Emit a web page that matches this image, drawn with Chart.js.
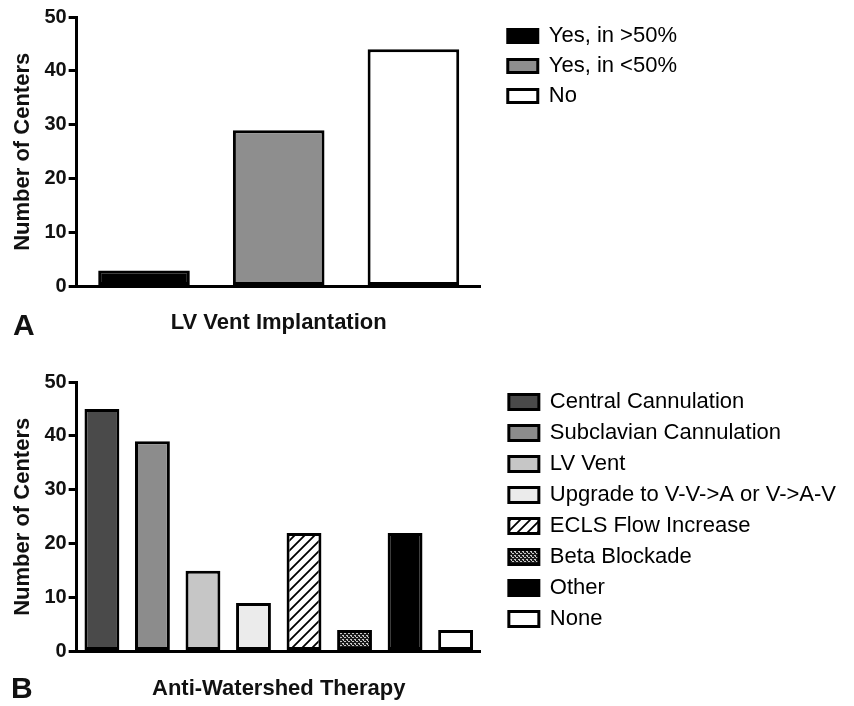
<!DOCTYPE html>
<html lang="en">
  <head>
    <meta charset="UTF-8" />
    <title>LV Vent / Anti-Watershed Therapy</title>
    <style type="text/css">
      body {
        margin: 0;
        background-color: #ffffff;
        font-family: "Liberation Sans", Arial, sans-serif;
      }
      .page {
        position: relative;
        width: 854px;
        height: 706px;
      }
      .panel {
        position: absolute;
        left: 0;
        width: 854px;
      }
      .tag {
        position: absolute;
        font-size: 30px;
        line-height: 30px;
        font-weight: bold;
        color: #111;
      }
    </style>
  </head>
  <body>
    <div class="page">
      <div class="panel" style="top: 0; height: 350px"><canvas id="chart-a"></canvas></div>
      <div class="panel" style="top: 360px; height: 346px"><canvas id="chart-b"></canvas></div>
      <div class="tag" style="left: 13px; top: 310px">A</div>
      <div class="tag" style="left: 11px; top: 673px">B</div>
    </div>

    <script src="https://cdn.jsdelivr.net/npm/chart.js@4.4.1/dist/chart.umd.min.js"></script>

    <script type="text/javascript">
      // panel A
      const ventLabels = ["Yes, in >50%", "Yes, in <50%", "No"];
      const ventCounts = [3, 29, 44];

      // panel B
      const therapyLabels = [
        "Central Cannulation",
        "Subclavian Cannulation",
        "LV Vent",
        "Upgrade to V-V->A or V->A-V",
        "ECLS Flow Increase",
        "Beta Blockade",
        "Other",
        "None",
      ];
      const therapyCounts = [45, 39, 15, 9, 22, 4, 22, 4];

      const yTicks = [0, 10, 20, 30, 40, 50];

      Chart.defaults.font.family = "'Liberation Sans', Arial, sans-serif";
      Chart.defaults.color = "#111";

      const makePattern = (size, paint) => {
        const c = document.createElement("canvas");
        c.width = size;
        c.height = size;
        const g = c.getContext("2d");
        paint(g, size);
        return g.createPattern(c, "repeat");
      };

      const hatch = makePattern(10, (g, s) => {
        g.fillStyle = "#fff";
        g.fillRect(0, 0, s, s);
        g.strokeStyle = "#000";
        g.lineWidth = 1.8;
        g.beginPath();
        g.moveTo(-2, s + 2);
        g.lineTo(s + 2, -2);
        g.moveTo(-2, 2);
        g.lineTo(2, -2);
        g.moveTo(s - 2, s + 2);
        g.lineTo(s + 2, s - 2);
        g.stroke();
      });

      const speckle = makePattern(4, (g, s) => {
        g.fillStyle = "#1a1a1a";
        g.fillRect(0, 0, s, s);
        g.fillStyle = "#c8c8c8";
        g.fillRect(0, 1, 2, 1);
        g.fillRect(2, 3, 2, 1);
        g.fillRect(3, 0, 1, 1);
      });

      const ventFills = ["#000000", "#8e8e8e", "#ffffff"];
      const therapyFills = ["#4a4a4a", "#8c8c8c", "#c6c6c6", "#ebebeb", hatch, speckle, "#000000", "#ffffff"];

      const buildChart = (id, labels, counts, fills, opts) => {
        return new Chart(id, {
          type: "bar",
          data: {
            labels: labels,
            datasets: [
              {
                data: counts,
                backgroundColor: fills,
                borderColor: "#000",
                borderWidth: 3,
                borderSkipped: false,
                barPercentage: opts.barPct,
                categoryPercentage: 1,
              },
            ],
          },
          options: {
            responsive: true,
            maintainAspectRatio: false,
            animation: false,
            layout: { padding: { top: opts.padTop, right: opts.padRight, bottom: 0, left: 0 } },
            plugins: {
              tooltip: { enabled: false },
              legend: {
                position: "right",
                align: "start",
                maxWidth: 420,
                onClick: null,
                labels: {
                  boxWidth: 30,
                  boxHeight: opts.boxH,
                  padding: opts.legendPad,
                  color: "#222",
                  font: { size: 22 },
                  generateLabels: () =>
                    labels.map((t, i) => ({
                      text: t,
                      fillStyle: fills[i],
                      strokeStyle: "#000",
                      lineWidth: 3,
                      hidden: false,
                      index: i,
                      datasetIndex: 0,
                    })),
                },
              },
            },
            scales: {
              x: {
                grid: { display: false, drawTicks: false },
                border: { display: true, color: "#000", width: 3 },
                ticks: { display: false },
                title: {
                  display: true,
                  text: opts.xTitle,
                  color: "#111",
                  font: { size: 22, weight: "bold" },
                  padding: { top: opts.xTitleTop, bottom: opts.xTitleBottom },
                },
              },
              y: {
                min: 0,
                max: 50,
                afterBuildTicks: (scale) => {
                  scale.ticks = yTicks.map((v) => ({ value: v }));
                },
                grid: {
                  drawOnChartArea: false,
                  drawTicks: true,
                  tickLength: 8,
                  color: "#000",
                  lineWidth: 3,
                },
                border: { display: true, color: "#000", width: 3 },
                ticks: {
                  padding: 2,
                  color: "#111",
                  font: { size: 20, weight: "bold" },
                },
                title: {
                  display: true,
                  text: "Number of Centers",
                  color: "#111",
                  font: { size: 22, weight: "bold" },
                  padding: { top: 10, bottom: 6 },
                },
              },
              gap: {
                type: "linear",
                position: "right",
                grid: { display: false },
                border: { display: false },
                ticks: { display: false },
                afterFit: (scale) => {
                  scale.width = opts.gap;
                },
              },
            },
          },
        });
      };

      buildChart("chart-a", ventLabels, ventCounts, ventFills, {
        barPct: 0.68,
        padTop: 17,
        padRight: 167,
        boxH: 13,
        legendPad: 8,
        xTitle: "LV Vent Implantation",
        xTitleTop: 23,
        xTitleBottom: 14,
        gap: 19,
      });

      buildChart("chart-b", therapyLabels, therapyCounts, therapyFills, {
        barPct: 0.69,
        padTop: 22,
        padRight: 8,
        boxH: 15,
        legendPad: 9,
        xTitle: "Anti-Watershed Therapy",
        xTitleTop: 24,
        xTitleBottom: 4,
        gap: 19,
      });
    </script>
  </body>
</html>
